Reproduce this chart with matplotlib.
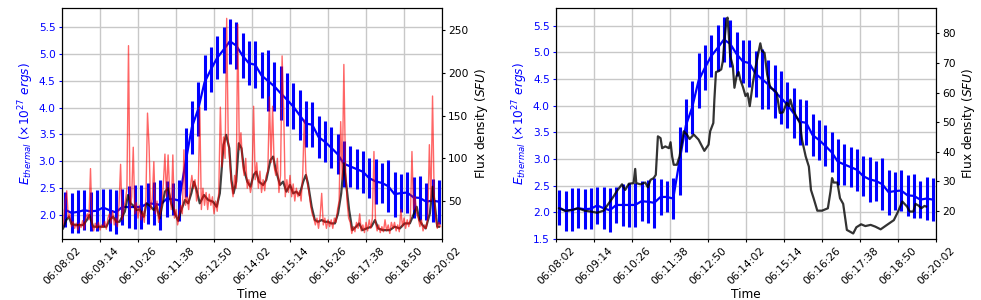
import matplotlib
matplotlib.use('Agg')
import matplotlib.pyplot as plt
import numpy as np

# time axis, seconds after 06:08:02
tick_secs = [0, 72, 144, 216, 288, 360, 432, 504, 576, 648, 720]
tick_labels = ['06:08:02', '06:09:14', '06:10:26', '06:11:38', '06:12:50', '06:14:02',
               '06:15:14', '06:16:26', '06:17:38', '06:18:50', '06:20:02']

# thermal energy, one point every 12 s starting at 6 s
e_time = [6 + 12 * i for i in range(60)]
e_thermal = [2.09, 2.03, 2.05, 2.08, 2.06, 2.07, 2.13, 2.08, 2.04, 2.14,
             2.14, 2.14, 2.14, 2.21, 2.20, 2.18, 2.29, 2.29, 2.26, 2.97,
             3.63, 3.97, 4.47, 4.71, 4.93, 5.08, 5.24, 5.16, 4.97, 4.83,
             4.80, 4.60, 4.50, 4.40, 4.27, 4.15, 4.02, 3.86, 3.70, 3.68,
             3.45, 3.36, 3.25, 3.13, 2.95, 2.90, 2.85, 2.80, 2.68, 2.62,
             2.59, 2.53, 2.38, 2.40, 2.41, 2.32, 2.31, 2.24, 2.26, 2.24]
e_err = [0.33, 0.37, 0.40, 0.37, 0.37, 0.38, 0.34, 0.39, 0.41, 0.33,
         0.40, 0.42, 0.42, 0.38, 0.40, 0.47, 0.33, 0.29, 0.38, 0.64,
         0.50, 0.50, 0.52, 0.42, 0.40, 0.43, 0.42, 0.44, 0.42, 0.41,
         0.44, 0.43, 0.57, 0.46, 0.50, 0.50, 0.43, 0.47, 0.43, 0.42,
         0.39, 0.38, 0.38, 0.37, 0.43, 0.38, 0.38, 0.39, 0.38, 0.42,
         0.37, 0.49, 0.42, 0.36, 0.38, 0.39, 0.41, 0.35, 0.40, 0.41]

# left panel: raw flux (red), every 3 s
raw_time = [3 * i for i in range(240)]
raw_flux = [18, 25, 50, 62, 30, 35, 20, 26, 18, 24,
            16, 24, 19, 27, 17, 30, 35, 28, 88, 22,
            15, 24, 18, 25, 16, 22, 19, 26, 17, 30,
            35, 24, 38, 22, 30, 20, 45, 93, 28, 42,
            50, 65, 232, 40, 55, 113, 35, 48, 30, 45,
            28, 38, 25, 55, 153, 114, 40, 52, 96, 35,
            50, 25, 35, 45, 70, 105, 55, 104, 60, 40,
            104, 30, 40, 22, 32, 45, 35, 110, 45, 55,
            40, 65, 80, 65, 75, 50, 60, 160, 40, 65,
            45, 60, 40, 58, 45, 55, 35, 50, 38, 60,
            160, 90, 125, 100, 264, 120, 95, 70, 55, 80,
            65, 257, 110, 130, 95, 80, 100, 65, 75, 60,
            70, 161, 75, 95, 65, 85, 60, 75, 62, 80,
            85, 172, 95, 161, 90, 80, 100, 60, 80, 220,
            157, 55, 75, 60, 80, 55, 70, 50, 65, 55,
            62, 50, 80, 145, 85, 70, 60, 45, 35, 30,
            22, 30, 18, 32, 59, 22, 30, 18, 28, 20,
            28, 18, 30, 25, 40, 50, 143, 75, 210, 90,
            50, 30, 25, 12, 20, 14, 25, 18, 35, 15,
            22, 13, 25, 15, 28, 18, 30, 108, 25, 15,
            22, 13, 20, 14, 28, 15, 22, 12, 25, 18,
            25, 15, 22, 14, 40, 20, 30, 18, 28, 20,
            30, 108, 40, 55, 35, 30, 20, 28, 15, 22,
            18, 30, 116, 50, 173, 60, 30, 18, 25, 20]

# left panel: smoothed flux (black)
smooth_time = [2, 8, 13, 18, 27, 40, 47, 52, 59, 71, 84, 90, 97, 103, 109, 119, 125, 130,
               136, 141, 147, 155, 160, 167, 174, 179, 185, 195, 201, 207, 214, 220, 226,
               233, 239, 245, 250, 255, 261, 269, 277, 286, 293, 299, 306, 311, 317, 321,
               325, 330, 335, 340, 345, 351, 357, 363, 368, 373, 381, 387, 395, 400, 405,
               413, 419, 425, 432, 438, 444, 450, 457, 462, 466, 473, 479, 485, 492, 498,
               504, 510, 517, 523, 529, 534, 539, 544, 550, 557, 563, 569, 577, 586, 593,
               599, 608, 621, 630, 640, 649, 659, 667, 672, 677, 683, 689, 697, 702, 706,
               711, 714]
smooth_flux = [17.9, 27.7, 31.6, 23.0, 21.8, 21.8, 27.7, 33.6, 19.9, 19.9, 19.9, 27.7, 31.6,
               25.7, 25.7, 37.5, 57.0, 47.3, 44.1, 39.4, 40.2, 31.6, 47.3, 44.1, 39.4, 44.1,
               29.6, 61.0, 64.9, 47.3, 35.5, 26.9, 39.4, 51.2, 47.3, 59.0, 72.7, 62.9, 47.3,
               57.0, 51.2, 49.2, 43.3, 59.0, 115.8, 127.5, 111.8, 74.7, 59.0, 72.7, 117.7,
               111.8, 86.4, 72.7, 66.8, 80.5, 84.4, 72.7, 68.8, 74.7, 98.1, 102.1, 86.4, 68.8,
               72.7, 61.0, 68.8, 59.0, 61.0, 57.0, 72.7, 80.5, 70.7, 43.3, 27.7, 25.7, 27.7,
               25.7, 25.7, 23.8, 23.8, 35.5, 59.0, 94.2, 66.8, 39.4, 15.9, 19.9, 23.8, 15.9,
               17.9, 19.9, 27.7, 17.9, 15.9, 15.9, 19.9, 17.9, 23.8, 23.8, 35.5, 43.3, 27.7,
               21.8, 17.9, 35.5, 66.8, 47.3, 19.9, 19.9]

# right panel: flux density (black)
flux_time = [6, 18, 30, 42, 54, 66, 78, 90, 100, 109, 116, 125, 131, 138, 147, 150, 152, 160,
             169, 174, 179, 185, 189, 193, 198, 201, 207, 214, 217, 220, 223, 229, 234, 242,
             248, 253, 261, 270, 281, 289, 292, 298, 300, 303, 308, 313, 316, 319, 323, 325,
             327, 330, 335, 338, 342, 346, 349, 354, 359, 363, 367, 373, 378, 384, 387, 390,
             395, 400, 406, 412, 418, 424, 430, 437, 441, 444, 449, 455, 462, 466, 473, 479,
             483, 488, 495, 504, 515, 520, 523, 526, 533, 538, 544, 551, 563, 569, 578, 586,
             596, 605, 615, 627, 640, 648, 656, 665, 670, 677, 681, 687, 692, 698, 701]
flux = [20.9, 20.0, 20.3, 20.9, 20.1, 19.8, 19.4, 20.1, 22.6, 24.9, 26.9, 29.0, 27.1, 29.2,
        29.4, 34.2, 29.4, 29.0, 29.6, 28.0, 30.5, 31.1, 32.2, 45.2, 44.6, 41.2, 41.8, 41.2,
        43.2, 38.4, 35.6, 35.6, 38.4, 46.9, 45.8, 44.3, 45.8, 44.1, 40.3, 42.4, 46.9, 49.7,
        57.6, 66.9, 67.2, 67.8, 70.6, 77.4, 84.7, 85.3, 80.2, 72.3, 68.9, 61.6, 65.5, 66.9,
        64.4, 61.9, 58.8, 59.7, 55.4, 63.3, 68.4, 74.0, 76.6, 74.0, 73.4, 66.1, 61.6, 61.0,
        59.9, 53.1, 53.3, 56.5, 55.4, 57.6, 54.2, 52.0, 49.7, 44.1, 38.4, 35.0, 27.1, 24.3,
        20.1, 20.1, 20.9, 26.6, 31.1, 29.6, 29.6, 24.3, 22.4, 13.6, 12.4, 14.5, 15.5, 14.9,
        15.3, 14.7, 13.8, 15.3, 16.9, 19.8, 23.2, 21.5, 19.8, 19.8, 22.4, 21.8, 20.9, 21.7,
        21.5]

plt.rcParams['font.size'] = 7.7

fig = plt.figure(figsize=(9.81, 3.0), dpi=100)
ax1 = fig.add_axes([0.0632, 0.203, 0.3874, 0.77])
ax2 = fig.add_axes([0.5668, 0.203, 0.3874, 0.77])


def energy_axis(ax, ylim):
    ax.errorbar(e_time, e_thermal, yerr=e_err, color='blue', lw=1.6, elinewidth=2.2, capsize=0)
    ax.set_xlim(0, 720)
    ax.set_ylim(*ylim)
    ax.set_xticks(tick_secs)
    ax.set_xticklabels(tick_labels, rotation=45)
    ax.set_xlabel('Time', fontsize=8.7, labelpad=1)
    ax.set_ylabel(r'$E_{thermal}$ ($\times10^{27}$ $ergs$)', color='blue', fontsize=8.7, labelpad=2)
    ax.tick_params(length=2, pad=2.5)
    ax.tick_params(axis='y', colors='blue')
    ax.grid(True, color='#c8c8c8', lw=1)
    ax.set_axisbelow(True)


energy_axis(ax1, (1.54, 5.86))
tw1 = ax1.twinx()
tw1.plot(smooth_time, smooth_flux, color='black', alpha=0.75, lw=1.6)
tw1.plot(raw_time, raw_flux, color='red', alpha=0.6, lw=1.0)
tw1.set_ylim(5.4, 276)
tw1.set_yticks([50, 100, 150, 200, 250])
tw1.tick_params(length=2, pad=2.5)
tw1.set_ylabel('Flux density ($SFU$)', fontsize=8.7, labelpad=3)

energy_axis(ax2, (1.5, 5.83))
ax2.set_yticks([1.5, 2.0, 2.5, 3.0, 3.5, 4.0, 4.5, 5.0, 5.5])
tw2 = ax2.twinx()
tw2.plot(flux_time, flux, color='black', alpha=0.8, lw=1.6)
tw2.set_ylim(10.5, 88.5)
tw2.set_yticks([20, 30, 40, 50, 60, 70, 80])
tw2.tick_params(length=2, pad=2.5)
tw2.set_ylabel('Flux density ($SFU$)', fontsize=8.7, labelpad=3)

fig.savefig('out.png', dpi=100)
